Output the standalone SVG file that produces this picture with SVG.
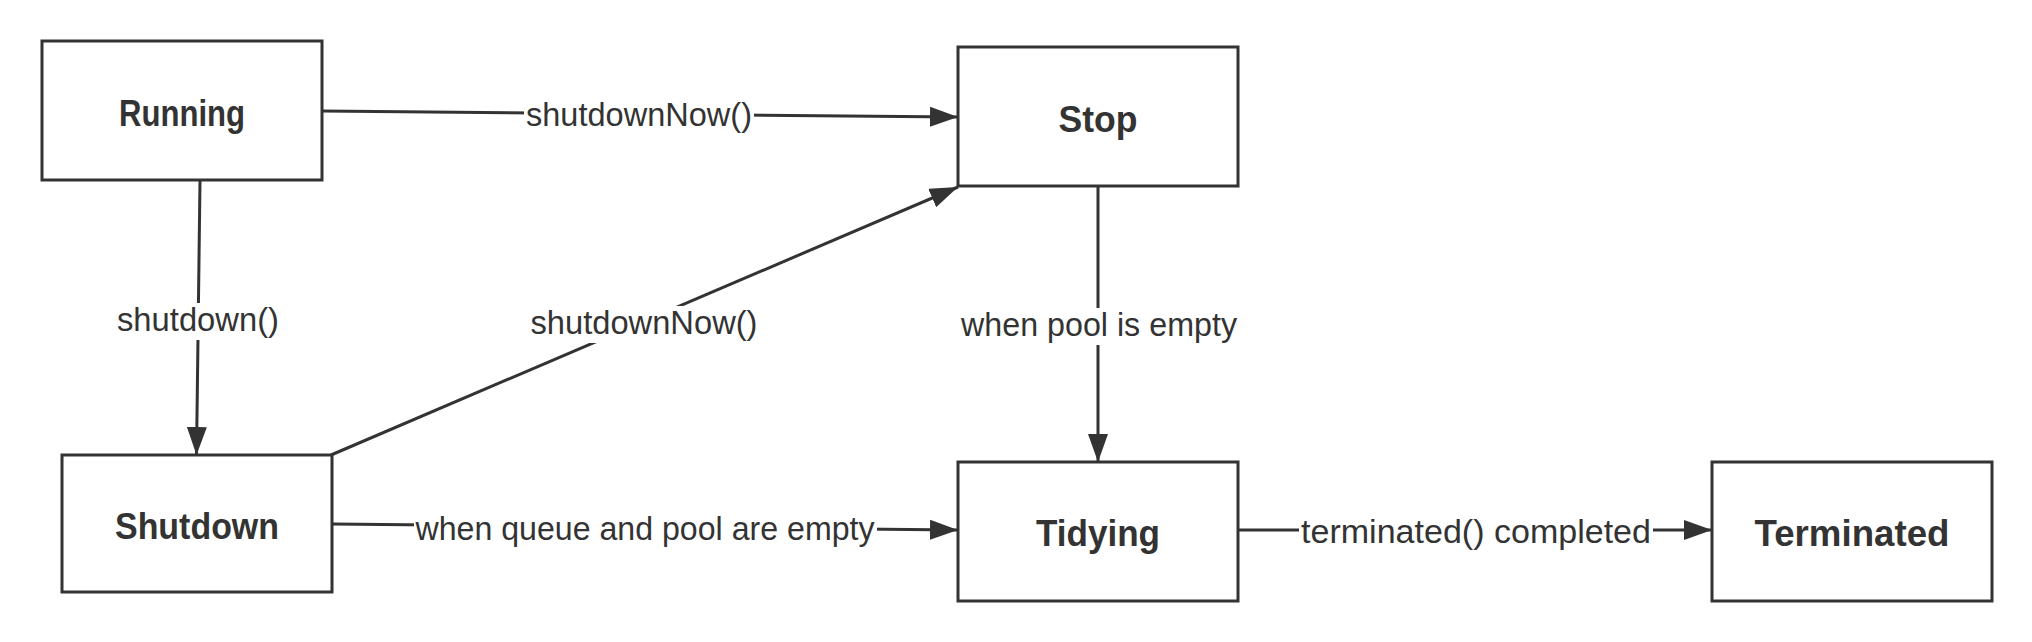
<svg xmlns="http://www.w3.org/2000/svg" width="2032" height="642" viewBox="0 0 2032 642">
  <style>
    .box { fill: #ffffff; stroke: #333333; stroke-width: 3; }
    .ntext { font-family: "Liberation Sans", Arial, sans-serif; font-weight: bold; font-size: 36px; fill: #333333; text-anchor: middle; }
    .edge { fill: none; stroke: #333333; stroke-width: 3; marker-end: url(#arrow); }
    .ltext { font-family: "Liberation Sans", Arial, sans-serif; font-size: 33px; fill: #333333; text-anchor: middle; }
    .lbg { fill: #ffffff; stroke: none; }
  </style>
  <defs>
    <marker id="arrow" markerUnits="userSpaceOnUse" markerWidth="28" markerHeight="20" refX="28" refY="10" orient="auto">
      <path d="M0,0 L28,10 L0,20 Z" fill="#333333"/>
    </marker>
  </defs>
  <rect x="0" y="0" width="2032" height="642" fill="#ffffff"/>

  <g id="connectors">
    <g id="e-running-stop">
      <path class="edge" d="M322,111 L958,117"/>
      <rect class="lbg" x="524" y="98" width="230" height="37"/>
      <text class="ltext" x="639" y="126" textLength="226" lengthAdjust="spacingAndGlyphs">shutdownNow()</text>
    </g>
    <g id="e-running-shutdown">
      <path class="edge" d="M200,181 L196.5,455"/>
      <rect class="lbg" x="115" y="303" width="166" height="37"/>
      <text class="ltext" x="198" y="331" textLength="162" lengthAdjust="spacingAndGlyphs">shutdown()</text>
    </g>
    <g id="e-shutdown-stop">
      <path class="edge" d="M331,455 L958,187"/>
      <rect class="lbg" x="529" y="306" width="231" height="37"/>
      <text class="ltext" x="644" y="334" textLength="227" lengthAdjust="spacingAndGlyphs">shutdownNow()</text>
    </g>
    <g id="e-stop-tidying">
      <path class="edge" d="M1098,187 L1098,462"/>
      <rect class="lbg" x="959" y="308" width="280" height="37"/>
      <text class="ltext" x="1099" y="336" textLength="276" lengthAdjust="spacingAndGlyphs">when pool is empty</text>
    </g>
    <g id="e-shutdown-tidying">
      <path class="edge" d="M332,524 L958,530"/>
      <rect class="lbg" x="414" y="512" width="463" height="37"/>
      <text class="ltext" x="645" y="540" textLength="459" lengthAdjust="spacingAndGlyphs">when queue and pool are empty</text>
    </g>
    <g id="e-tidying-terminated">
      <path class="edge" d="M1238,530 L1712,530"/>
      <rect class="lbg" x="1299" y="515" width="354" height="37"/>
      <text class="ltext" x="1476" y="543" textLength="350" lengthAdjust="spacingAndGlyphs">terminated() completed</text>
    </g>
  </g>

  <g id="node-running">
    <rect class="box" x="42" y="41" width="280" height="139"/>
    <text class="ntext" x="182" y="126" textLength="126" lengthAdjust="spacingAndGlyphs">Running</text>
  </g>
  <g id="node-stop">
    <rect class="box" x="958" y="47" width="280" height="139"/>
    <text class="ntext" x="1098" y="132" textLength="79" lengthAdjust="spacingAndGlyphs">Stop</text>
  </g>
  <g id="node-shutdown">
    <rect class="box" x="62" y="455" width="270" height="137"/>
    <text class="ntext" x="197" y="539" textLength="164" lengthAdjust="spacingAndGlyphs">Shutdown</text>
  </g>
  <g id="node-tidying">
    <rect class="box" x="958" y="462" width="280" height="139"/>
    <text class="ntext" x="1098" y="546" textLength="124" lengthAdjust="spacingAndGlyphs">Tidying</text>
  </g>
  <g id="node-terminated">
    <rect class="box" x="1712" y="462" width="280" height="139"/>
    <text class="ntext" x="1852" y="546" textLength="195" lengthAdjust="spacingAndGlyphs">Terminated</text>
  </g>
</svg>
